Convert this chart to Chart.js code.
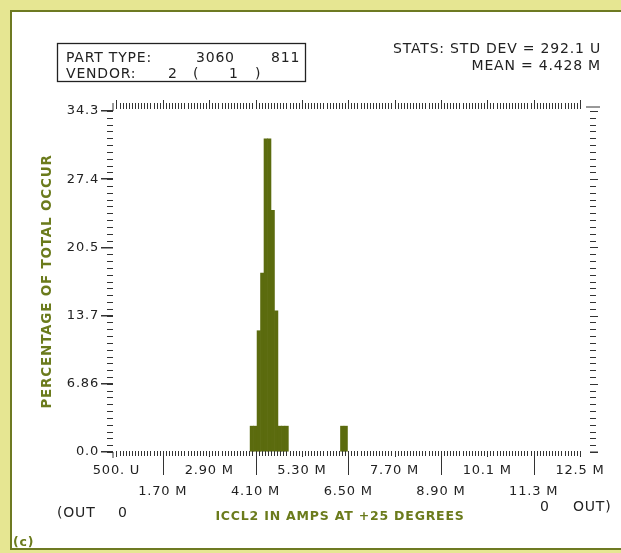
<!DOCTYPE html>
<html>
<head>
<meta charset="utf-8">
<script src="https://cdn.jsdelivr.net/npm/chart.js@4"></script>
<style>
  html, body { margin: 0; padding: 0; background: #e6e692; }
  canvas { display: block; }
</style>
</head>
<body>
<canvas id="histo" width="621" height="553"></canvas>
<script>
// histogram bins (lower edge in mA, percentage of total)
const binStarts = [3.96, 4.05, 4.14, 4.23, 4.32, 4.41, 4.50, 4.59, 4.68, 4.77, 4.86, 6.30, 6.39];
const binPct    = [2.6, 2.6, 12.2, 18.0, 31.5, 31.5, 24.3, 14.2, 2.6, 2.6, 2.6, 2.6, 2.6];
const binWidth  = 0.09;

const xTickValues = [0.5, 1.7, 2.9, 4.1, 5.3, 6.5, 7.7, 8.9, 10.1, 11.3, 12.5];
const xTickLabels = ['500. U', '1.70 M', '2.90 M', '4.10 M', '5.30 M', '6.50 M', '7.70 M', '8.90 M', '10.1 M', '11.3 M', '12.5 M'];
const yTickValues = [0, 6.86, 13.72, 20.58, 27.44, 34.3];
const yTickLabels = ['0.0', '6.86', '13.7', '20.5', '27.4', '34.3'];

const OLIVE = '#5b6b0e';
const TEXT = '#222';
const FONT = "'DejaVu Sans', sans-serif";

const frame = {
  id: 'frame',
  beforeDraw(chart) {
    const c = chart.ctx;
    c.save();
    c.fillStyle = '#e6e692';
    c.fillRect(0, 0, chart.width, chart.height);
    c.fillStyle = '#fff';
    c.fillRect(12, 12, chart.width - 12, chart.height - 16);
    c.strokeStyle = '#6e7a22';
    c.lineWidth = 2;
    c.beginPath();
    c.moveTo(chart.width, 11); c.lineTo(11, 11); c.lineTo(11, chart.height - 4); c.lineTo(chart.width, chart.height - 4);
    c.stroke();
    c.restore();
    // the old plotter lettering is spaced out a little
    c.letterSpacing = '0.8px';
  },
  afterDraw(chart) {
    const c = chart.ctx;
    const xs = chart.scales.x, ys = chart.scales.y;
    const { left, right, top, bottom } = chart.chartArea;
    c.save();
    c.strokeStyle = '#333';
    c.lineWidth = 1;
    c.beginPath();
    // bottom and top minor ticks
    for (let i = 0; i <= 150; i++) {
      const px = Math.round(xs.getPixelForValue(0.5 + i * 0.08)) + 0.5;
      const big = i % 15 === 0;
      c.moveTo(px, bottom - 1); c.lineTo(px, bottom + (big ? 5 : 4));
      c.moveTo(px, top - 2); c.lineTo(px, top - (big ? 11 : 8));
    }
    // long ticks between the label rows
    xTickValues.forEach((v, i) => {
      if (i % 2) {
        const px = Math.round(xs.getPixelForValue(v)) + 0.5;
        c.moveTo(px, bottom + 5); c.lineTo(px, bottom + 23);
      }
    });
    // left and right minor ticks
    for (let i = 0; i <= 50; i++) {
      const py = Math.round(ys.getPixelForValue(i * 0.686)) + 0.5;
      const big = i % 10 === 0;
      c.moveTo(left - 6, py); c.lineTo(left, py);
      c.moveTo(right, py); c.lineTo(right + (big ? 8 : 6), py);
    }
    // corners
    c.moveTo(left, top); c.lineTo(left, top - 8);
    c.moveTo(left, bottom); c.lineTo(left, bottom + 6);
    c.moveTo(right - 4, top - 4); c.lineTo(right + 10, top - 4);
    c.moveTo(right, bottom); c.lineTo(right + 8, bottom);
    c.stroke();

    // header box
    c.strokeStyle = TEXT;
    c.lineWidth = 1.3;
    c.strokeRect(57.5, 43.5, 248, 38);
    c.fillStyle = TEXT;
    c.font = `14px ${FONT}`;
    c.letterSpacing = '0.8px';
    c.textBaseline = 'alphabetic';
    c.textAlign = 'left';
    c.fillText('PART TYPE:', 66, 62);
    c.fillText('3060', 196, 62);
    c.fillText('811', 271, 62);
    c.fillText('VENDOR:', 66, 78);
    c.fillText('2', 168, 78);
    c.fillText('(', 193, 78);
    c.fillText('1', 229, 78);
    c.fillText(')', 255, 78);

    c.textAlign = 'right';
    c.fillText('STATS: STD DEV = 292.1 U', 601, 53);
    c.fillText('MEAN = 4.428 M', 601, 70);

    c.textAlign = 'left';
    c.fillText('(OUT', 57, 517);
    c.fillText('0', 118, 517);
    c.fillText('0', 540, 511);
    c.fillText('OUT)', 573, 511);

    c.fillStyle = '#6b7b1c';
    c.font = `bold 12.5px ${FONT}`;
    c.textAlign = 'center';
    c.fillText('ICCL2 IN AMPS AT +25 DEGREES', 340, 520);
    c.textAlign = 'left';
    c.fillText('(c)', 13, 546);
    c.restore();
  }
};

new Chart(document.getElementById('histo'), {
  type: 'bar',
  data: {
    datasets: [{
      data: binStarts.map((s, i) => ({ x: s + binWidth / 2, y: binPct[i] })),
      backgroundColor: OLIVE,
      borderWidth: 0,
      barPercentage: 1,
      categoryPercentage: 1
    }]
  },
  options: {
    responsive: false,
    animation: false,
    layout: { padding: { left: 0, right: 31, top: 111, bottom: 0 } },
    plugins: { legend: { display: false }, tooltip: { enabled: false } },
    scales: {
      x: {
        type: 'linear',
        offset: false,
        min: 0.41,
        max: 12.76,
        afterBuildTicks: (axis) => { axis.ticks = xTickValues.map(v => ({ value: v })); },
        afterFit: (axis) => { axis.height = 101; },
        grid: { display: false, offset: false },
        border: { display: false },
        ticks: {
          autoSkip: false,
          maxRotation: 0,
          padding: 1,
          color: TEXT,
          font: { family: FONT, size: 13, lineHeight: 1.55 },
          callback: (v, i) => (i % 2 ? ['', xTickLabels[i]] : [xTickLabels[i]])
        }
      },
      y: {
        min: 0,
        max: 34.3,
        afterBuildTicks: (axis) => { axis.ticks = yTickValues.map(v => ({ value: v })); },
        afterFit: (axis) => { axis.width = 113; },
        grid: { drawOnChartArea: false, drawTicks: true, tickLength: 12, color: '#333', lineWidth: 1.5 },
        border: { display: false },
        ticks: {
          padding: 2,
          color: TEXT,
          font: { family: FONT, size: 13 },
          callback: (v, i) => yTickLabels[i]
        },
        title: {
          display: true,
          text: 'PERCENTAGE OF TOTAL OCCUR',
          color: '#6b7b1c',
          font: { family: FONT, size: 13.5, weight: 'bold' },
          padding: { top: 39, bottom: 0 }
        }
      }
    }
  },
  plugins: [frame]
});
</script>
</body>
</html>
